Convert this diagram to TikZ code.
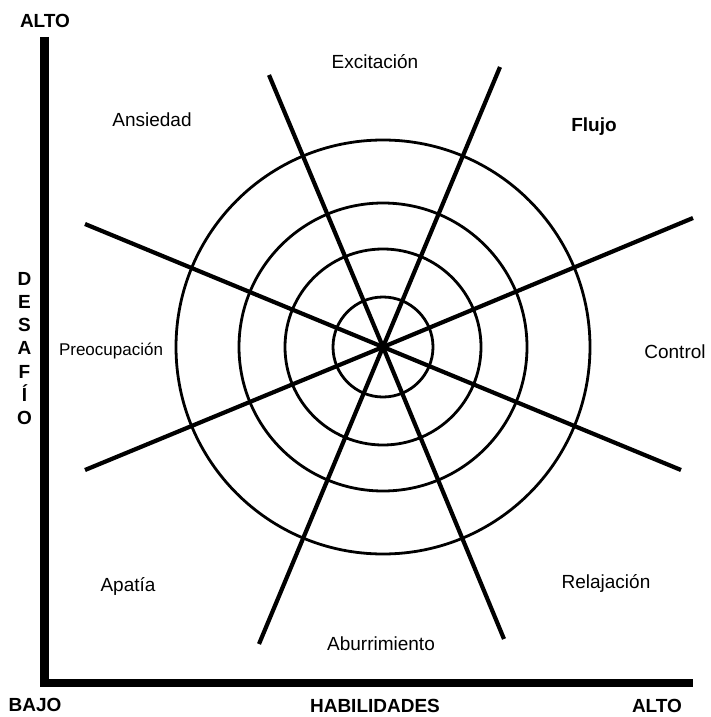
\documentclass[tikz,border=0pt]{standalone}
\usepackage{fontspec}
\setmainfont{Liberation Sans}

\tikzset{
  zone/.style={font=\fontsize{19}{19}\selectfont, inner sep=0pt, anchor=base},
  axlabel/.style={font=\fontsize{19}{19}\selectfont\bfseries, inner sep=0pt, anchor=base},
  spoke/.style={line width=4.2pt},
  ring/.style={line width=2.8pt},
  axisline/.style={line width=8.5pt}
}

\begin{document}
\begin{tikzpicture}[x=1pt,y=-1pt]
	\useasboundingbox (0,0) rectangle (711,717);
	% axes
	\coordinate (orig) at (44.5,683);
	\coordinate (ytop) at (44.5,37);
	\coordinate (xend) at (693,683);
	\draw [axisline] (ytop) -- (orig) -- (xend);

	% axis labels
	\node [axlabel] (altoy) at (45,28) {ALTO};
	\node [axlabel] (bajo) at (35,711) {BAJO};
	\node [axlabel] (habil) at (375,712.5) {HABILIDADES};
	\node [axlabel] (altox) at (657,712.5) {ALTO};
	\foreach \l [count=\i from 0] in {D,E,S,A,F,Í,O}
		\node [axlabel] (des\i) at (24.5,285+23.3*\i) {\l};

	% rings
	\coordinate (c) at (383,347);
	\foreach \r in {50,98,144,207}
		\draw [ring] (c) circle [radius=\r];

	% spokes
	\coordinate (a1) at (85,224);  \coordinate (a2) at (681,470);
	\coordinate (b1) at (85,470);  \coordinate (b2) at (693,218);
	\coordinate (c1) at (269,75);  \coordinate (c2) at (504,639);
	\coordinate (d1) at (500,67);  \coordinate (d2) at (259,644);
	\draw [spoke] (a1) -- (c) -- (a2);
	\draw [spoke] (b1) -- (c) -- (b2);
	\draw [spoke] (c1) -- (c) -- (c2);
	\draw [spoke] (d1) -- (c) -- (d2);

	% zones
	\node [zone] (excit) at (375,68) {Excitación};
	\node [zone] (ansie) at (152,126) {Ansiedad};
	\node [zone, font=\fontsize{19}{19}\selectfont\bfseries] (flujo) at (594,131.5) {Flujo};
	\node [zone, font=\fontsize{17}{17}\selectfont] (preoc) at (111,355) {Preocupación};
	\node [zone] (contr) at (675,358) {Control};
	\node [zone] (apat) at (128,591.5) {Apatía};
	\node [zone] (relaj) at (606,588) {Relajación};
	\node [zone] (aburr) at (381,650) {Aburrimiento};
\end{tikzpicture}
\end{document}
